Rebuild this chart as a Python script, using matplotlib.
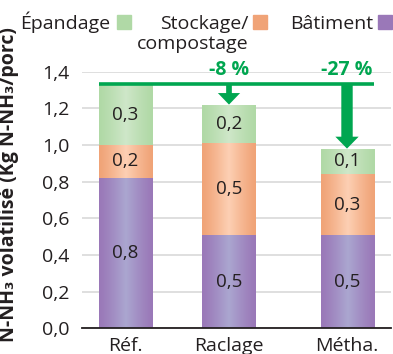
import numpy as np
import matplotlib
matplotlib.use("Agg")
import matplotlib.pyplot as plt
from matplotlib.colors import to_rgb

plt.rcParams['font.family'] = ['Open Sans', 'DejaVu Sans']

# Data
categories = ["Réf.", "Raclage", "Métha."]
batiment = [0.82, 0.51, 0.51]
stockage = [0.18, 0.50, 0.33]
epandage = [0.33, 0.21, 0.14]
reductions = ["-8 %", "-27 %"]
y_ticks = [0.0, 0.2, 0.4, 0.6, 0.8, 1.0, 1.2, 1.4]
legend_labels = ["Épandage", "Stockage/\ncompostage", "Bâtiment"]

# Styling
x_pos = [0.0, 1.0, 2.14]
bar_w = 0.512
series = [
    (batiment, "#9a78b8", "#aba7d0"),
    (stockage, "#f0a377", "#fdd0b4"),
    (epandage, "#b0d9a6", "#cfe7c9"),
]
arrow_green = "#00a650"
text_col = "#231f20"

W, H = 393, 354
fig = plt.figure(figsize=(W / 100, H / 100), dpi=100)
ax = fig.add_axes([82 / W, 1 - 328.3 / H, 309 / W, (328.3 - 71.6) / H])


def gradient_fill(patch, edge, center):
    e = np.array(to_rgb(edge))
    c = np.array(to_rgb(center))
    t = np.linspace(-1, 1, 64)
    w = (1 - np.abs(t)) ** 1.2
    img = e[None, :] * (1 - w[:, None]) + c[None, :] * w[:, None]
    x0, y0 = patch.get_x(), patch.get_y()
    x1, y1 = x0 + patch.get_width(), y0 + patch.get_height()
    im = ax.imshow(img[None, :, :], extent=[x0, x1, y0, y1], aspect="auto",
                   interpolation="bilinear", zorder=2)
    im.set_clip_path(patch)


bottom = np.zeros(len(categories))
for vals, edge, center in series:
    bars = ax.bar(x_pos, vals, bar_w, bottom=bottom, color=edge, zorder=2,
                  linewidth=0)
    for b, v, btm in zip(bars, vals, bottom):
        gradient_fill(b, edge, center)
        ax.text(b.get_x() + b.get_width() / 2, btm + v / 2,
                f"{v:.1f}".replace(".", ","), ha="center", va="center",
                fontsize=13.5, color=text_col, zorder=4)
    bottom = bottom + np.array(vals)

totals = bottom
ref_total = totals[0]

ax.set_xlim(-0.42, 2.565)
ax.set_ylim(0, 1.4)
ax.set_yticks(y_ticks)
ax.set_yticklabels([f"{v:.1f}".replace(".", ",") for v in y_ticks],
                   fontsize=14, color=text_col)
ax.set_xticks(x_pos)
ax.set_xticklabels(categories, fontsize=14, color=text_col)
ax.tick_params(axis="y", length=0, pad=9)
ax.tick_params(axis="x", length=0, pad=6.5)
ax.grid(axis="y", color="#d9d9d9", linewidth=1.2, zorder=0)
ax.set_axisbelow(True)
for s in ["top", "right", "left"]:
    ax.spines[s].set_visible(False)
ax.spines["bottom"].set_color(text_col)
ax.spines["bottom"].set_linewidth(1.3)
ax.spines["bottom"].set_zorder(5)

# Reference level line and reduction arrows
ax.plot([x_pos[0] - bar_w / 2, x_pos[2] + bar_w / 2], [ref_total, ref_total],
        color=arrow_green, lw=2.6, zorder=5, solid_capstyle="butt",
        clip_on=False)
shaft_w = [0.055, 0.11]
head_w = [0.215, 0.225]
head_len = [0.063, 0.065]
for i, k in enumerate([1, 2]):
    ax.add_patch(plt.Polygon([
        (x_pos[k] - shaft_w[i] / 2, ref_total),
        (x_pos[k] + shaft_w[i] / 2, ref_total),
        (x_pos[k] + shaft_w[i] / 2, totals[k] + head_len[i]),
        (x_pos[k] + head_w[i] / 2, totals[k] + head_len[i]),
        (x_pos[k], totals[k]),
        (x_pos[k] - head_w[i] / 2, totals[k] + head_len[i]),
        (x_pos[k] - shaft_w[i] / 2, totals[k] + head_len[i]),
    ], closed=True, color=arrow_green, lw=0, zorder=5))
    ax.text(x_pos[k], 1.41, reductions[i], ha="center", va="center",
            fontsize=14, fontweight="bold", color=arrow_green, zorder=6,
            clip_on=False)

ax.set_ylabel("N-NH₃ volatilisé (Kg N-NH₃/porc)", fontsize=14,
              fontweight="bold", color=text_col)
ax.yaxis.set_label_coords(-0.205, 0.56)

# Legend built from text and colour squares
legend_x_right = [110, 248, 373]
legend_sq_x = [117, 253, 378]
legend_cols = [series[2][1], series[1][1], series[0][1]]
for label, xr, sx, col in zip(legend_labels, legend_x_right, legend_sq_x,
                              legend_cols):
    for j, line in enumerate(label.split("\n")):
        fig.text(xr / W, 1 - (29 + 20 * j) / H, line, ha="right",
                 va="baseline", fontsize=14, color=text_col)
    fig.patches.append(plt.Rectangle((sx / W, 1 - 29 / H), 14 / W, 14 / H,
                                     transform=fig.transFigure, color=col,
                                     figure=fig))

fig.savefig("out.png", dpi=100)
